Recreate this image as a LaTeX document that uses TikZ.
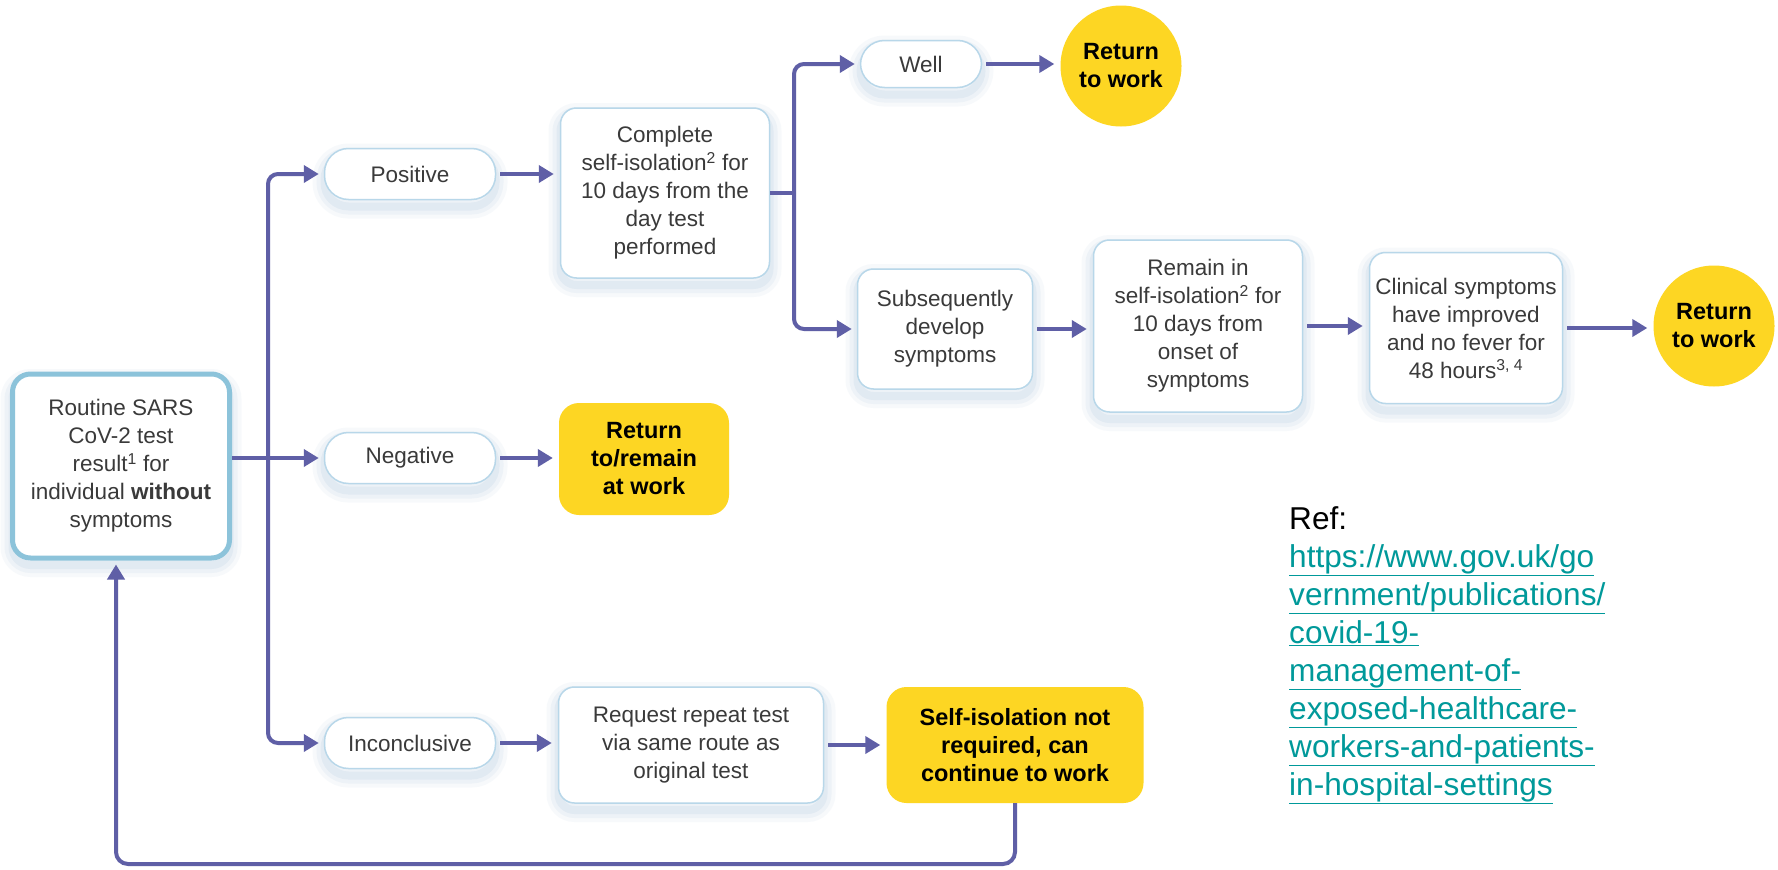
\documentclass[tikz,border=0pt]{standalone}
\usepackage{fontspec}
\setmainfont{Liberation Sans}
\usetikzlibrary{arrows.meta,calc}
\definecolor{arrc}{HTML}{5F5FA6}
\definecolor{yel}{HTML}{FDD623}
\definecolor{bord}{HTML}{B8D7E9}
\definecolor{mainbord}{HTML}{8CC3DA}
\definecolor{txt}{HTML}{3A3A3A}
\definecolor{link}{HTML}{00999A}
\definecolor{shc}{HTML}{6F9CC4}
\begin{document}
\begin{tikzpicture}[x=1pt,y=-1pt,
  shad/.style={
    preaction={draw=shc, line width=24pt, opacity=0.05, transform canvas={yshift=-7pt}},
    preaction={draw=shc, line width=16pt, opacity=0.07, transform canvas={yshift=-7pt}},
    preaction={draw=shc, line width=8pt, opacity=0.09, transform canvas={yshift=-7pt}}},
  basetxt/.style={align=center, inner sep=2pt, font=\fontsize{22.5}{28}\selectfont},
  wbox/.style={basetxt, draw=bord, line width=1.5pt, fill=white, text=txt, rounded corners=16pt, shad},
  pill/.style={wbox, rounded corners=24pt, minimum width=171pt, minimum height=51pt},
  ybox/.style={basetxt, fill=yel, rounded corners=20pt, font=\fontsize{23.5}{28}\selectfont\bfseries},
  circ/.style={basetxt, circle, fill=yel, minimum size=121pt, font=\fontsize{23.5}{28}\selectfont\bfseries},
  arr/.style={draw=arrc, line width=4pt, -{Triangle[length=15pt,width=17pt]}, rounded corners=10pt},
  ln/.style={draw=arrc, line width=4pt, rounded corners=10pt}
]
\fill[white] (0,0) rectangle (1778,870);
\useasboundingbox (0,0) rectangle (1778,870);

% nodes
\node[wbox, draw=mainbord, line width=5pt, rounded corners=18pt, minimum width=217pt, minimum height=184pt] (main) at (121,466) {Routine SARS\\CoV-2 test\\result\textsuperscript{1} for\\individual \textbf{without}\\symptoms};
\node[pill] (pos) at (410,174) {Positive};
\node[pill] (neg) at (410,458) {Negative};
\node[pill] (inc) at (410,743) {Inconclusive};
\node[wbox, minimum width=209pt, minimum height=170pt] (comp) at (665,193) {Complete\\self-isolation\textsuperscript{2} for\\10 days from the\\day test\\performed};
\node[pill, minimum width=121pt, minimum height=47pt] (well) at (921,64) {Well};
\node[circ] (ret1) at (1121,66) {Return\\to work};
\node[wbox, minimum width=175pt, minimum height=120pt] (subs) at (945,329) {Subsequently\\develop\\symptoms};
\node[wbox, minimum width=209pt, minimum height=172pt] (rem) at (1198,326) {Remain in\\self-isolation\textsuperscript{2} for\\10 days from\\onset of\\symptoms};
\node[wbox, minimum width=193pt, minimum height=151pt] (clin) at (1466,328) {Clinical symptoms\\have improved\\and no fever for\\48 hours\textsuperscript{3, 4}};
\node[circ] (ret2) at (1714,326) {Return\\to work};
\node[ybox, minimum width=170pt, minimum height=112pt] (retrem) at (644,459) {Return\\to/remain\\at work};
\node[wbox, minimum width=265pt, minimum height=116pt] (req) at (691,745) {Request repeat test\\via same route as\\original test};
\node[ybox, minimum width=257pt, minimum height=116pt] (self) at (1015,745) {Self-isolation not\\required, can\\continue to work};

% connectors
\coordinate (t1) at (268,458);
\coordinate (t2) at (794,193);
\coordinate (fb) at (116,864);
\draw[arr, shorten >=5pt] (main.east |- neg) -- (neg.west);
\draw[arr, shorten >=5pt] (t1) |- (pos.west);
\draw[arr, shorten >=5pt] (t1) |- (inc.west);
\draw[arr, shorten <=4pt, shorten >=6pt] (pos.east) -- (pos.east -| comp.west);
\draw[arr, shorten <=4pt, shorten >=6pt] (neg.east) -- (neg.east -| retrem.west);
\draw[arr, shorten <=4pt, shorten >=6pt] (inc.east) -- (inc.east -| req.west);
\draw[arr, shorten <=4pt, shorten >=6pt] (req.east) -- (req.east -| self.west);
\draw[ln] (comp.east) -- (t2);
\draw[arr, shorten >=5pt] (t2) |- (well.west);
\draw[arr, shorten >=5pt] (t2) |- (subs.west);
\draw[arr, shorten <=4pt, shorten >=6pt] (well.east) -- (well.east -| ret1.west);
\draw[arr, shorten <=4pt, shorten >=6pt] (subs.east) -- (subs.east -| rem.west);
\draw[arr, shorten <=4pt, shorten >=6pt] (rem.east) -- (rem.east -| clin.west);
\draw[arr, shorten <=4pt, shorten >=6pt] (clin.east) -- (clin.east -| ret2.west);
\draw[arr, rounded corners=12pt, shorten >=4pt] (self.south) |- (fb) -- (fb |- main.south);

% reference
\node[anchor=north west, inner sep=0pt, align=left, font=\fontsize{31.6}{38}\selectfont] (ref) at (1289,506) {Ref:\\
\textcolor{link}{\underline{https://www.gov.uk/go}}\\
\textcolor{link}{\underline{vernment/publications/}}\\
\textcolor{link}{\underline{covid-19-}}\\
\textcolor{link}{\underline{management-of-}}\\
\textcolor{link}{\underline{exposed-healthcare-}}\\
\textcolor{link}{\underline{workers-and-patients-}}\\
\textcolor{link}{\underline{in-hospital-settings}}};
\end{tikzpicture}
\end{document}
